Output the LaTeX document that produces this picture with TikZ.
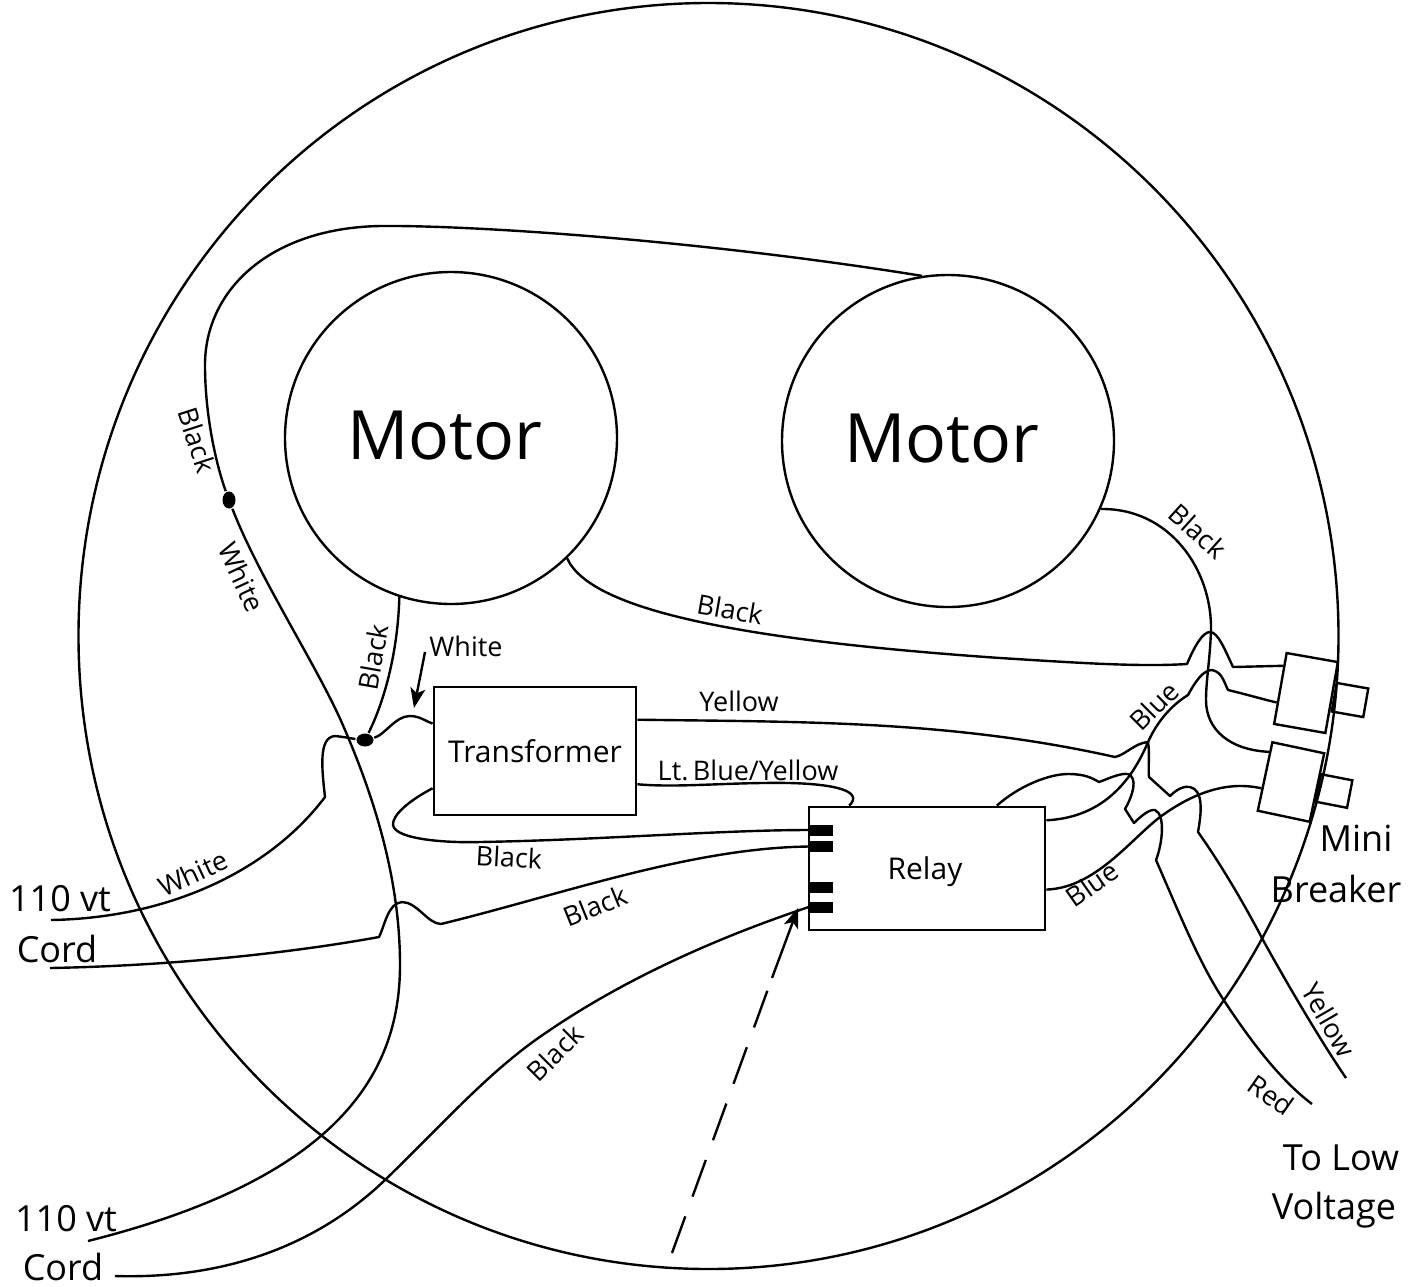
\documentclass[tikz,border=0pt]{standalone}
\usepackage{fontspec}
\setmainfont{Open Sans}
\usetikzlibrary{shapes.geometric, arrows.meta}

\begin{document}
\begin{tikzpicture}[x=1pt, y=-1pt, line width=2.4pt,
  wire/.style={line join=round},
  pointer/.style={-{Stealth[length=20pt, width=15pt, inset=5pt]}},
  motor/.style={draw, circle, minimum size=332pt, inner sep=0pt},
  motortxt/.style={font=\fontsize{68}{68}\selectfont, inner sep=0pt},
  box/.style={draw, rectangle, line width=2.8pt, inner sep=0pt},
  breaker/.style={draw, rectangle, inner sep=0pt},
  pin/.style={fill=black, rectangle, minimum width=23pt, minimum height=11pt, inner sep=0pt},
  splice/.style={fill=black, ellipse, inner sep=0pt},
  boxtxt/.style={font=\fontsize{30}{30}\selectfont, inner sep=0pt},
  lbl/.style={font=\fontsize{27}{27}\selectfont, inner sep=0pt},
  biglbl/.style={font=\fontsize{36}{36}\selectfont, inner sep=0pt}]
\useasboundingbox (0,0) rectangle (1424,1286);

\node[draw, ellipse, minimum width=1260pt, minimum height=1266pt, inner sep=0pt] (housing) at (708.5,636) {};
\node[motor] (motorL) at (451,438) {};
\node[motor] (motorR) at (948,441) {};
\node[box, minimum width=202pt, minimum height=128pt] (xfmr) at (535,751) {};
\node[box, minimum width=236pt, minimum height=123pt] (relay) at (927,868.5) {};
\node[breaker, minimum width=52pt, minimum height=72pt, rotate=-10] (brkA) at (1306,693) {};
\node[breaker, minimum width=32pt, minimum height=29pt, rotate=-10] (tabA) at (1350,700) {};
\node[breaker, minimum width=53pt, minimum height=70pt, rotate=-12] (brkB) at (1291,782) {};
\node[breaker, minimum width=32pt, minimum height=28pt, rotate=-11] (tabB) at (1334,791) {};
\node[pin] (pinA) at (821.5,830) {};
\node[pin] (pinB) at (821.5,846.5) {};
\node[pin] (pinC) at (821.5,887.5) {};
\node[pin] (pinD) at (821.5,907) {};
\node[splice, minimum width=13pt, minimum height=17pt] (spliceA) at (229,500) {};
\node[splice, minimum width=17pt, minimum height=13pt] (spliceB) at (365,740) {};

\coordinate (cordA) at (51,920);
\coordinate (cordB) at (50,968);
\coordinate (cordC) at (88,1241);
\coordinate (cordD) at (115,1276);
\coordinate (endYellow) at (1346,1078);
\coordinate (endRed) at (1312,1104);
\coordinate (noteTail) at (425,652);
\coordinate (noteHead) at (414,708);
\coordinate (dashTail) at (672,1253);
\coordinate (dashKnee) at (772,978);
\coordinate (dashHead) at (798,908);

\draw[wire] (motorR.99) .. controls (700,240) and (470,225) .. (380,226)
  .. controls (270,228) and (205,290) .. (205,365)
  .. controls (205,420) and (218,470) .. (spliceA);
\draw[wire] (spliceA) .. controls (260,580) and (320,670) .. (345,730)
  .. controls (375,800) and (400,880) .. (400,965)
  .. controls (400,1080) and (330,1180) .. (cordC);
\draw[wire] (cordD) .. controls (250,1280) and (335,1228) .. (385,1180)
  .. controls (445,1122) and (490,1070) .. (547,1032)
  .. controls (620,982) and (710,940) .. (pinD.west);
\draw[wire] (cordB) .. controls (160,966) and (280,955) .. (379,937)
  .. controls (385,925) and (388,903) .. (402,902)
  .. controls (417,902) and (428,924) .. (441,924)
  .. controls (560,895) and (690,848) .. (pinB.west);
\draw[wire] (cordA) .. controls (170,918) and (270,870) .. (325,797)
  .. controls (322,770) and (318,737) .. (335,736)
  .. controls (345,737) and (355,739) .. (spliceB);
\draw[wire] (motorL.-108) .. controls (398,650) and (385,700) .. (spliceB);
\draw[wire] (spliceB) .. controls (385,735) and (395,716) .. (410,716)
  .. controls (420,716) and (427,722) .. (xfmr.165);
\draw[wire] (xfmr.200) .. controls (410,800) and (392,815) .. (393,825)
  .. controls (395,840) and (450,843) .. (480,842)
  .. controls (600,840) and (720,830) .. (pinA.west);
\draw[wire] (xfmr.17) .. controls (800,722) and (950,720) .. (1115,757)
  .. controls (1125,755) and (1135,743) .. (1148,742)
  .. controls (1150,755) and (1148,765) .. (1149,777) -- (1170,796)
  .. controls (1178,788) and (1185,786) .. (1190,787)
  .. controls (1203,790) and (1202,810) .. (1198,832)
  .. controls (1225,870) and (1250,915) .. (1263,940)
  .. controls (1285,980) and (1320,1040) .. (endYellow);
\draw[wire] (xfmr.-18) .. controls (680,788) and (730,782) .. (790,783)
  .. controls (830,784) and (865,790) .. (relay.141);
\draw[wire] (relay.42) .. controls (1020,785) and (1050,774) .. (1068,774)
  .. controls (1085,774) and (1092,778) .. (1099,782)
  .. controls (1110,778) and (1120,773) .. (1128,774)
  .. controls (1138,778) and (1133,795) .. (1125,809) -- (1134,823)
  .. controls (1142,815) and (1150,809) .. (1155,810)
  .. controls (1166,815) and (1162,845) .. (1156,860)
  .. controls (1180,915) and (1200,965) .. (1225,1002)
  .. controls (1250,1040) and (1280,1080) .. (endRed);
\draw[wire] (relay.22) .. controls (1095,818) and (1128,790) .. (1148,742)
  .. controls (1158,720) and (1172,705) .. (1188,695)
  .. controls (1195,682) and (1203,670) .. (1212,670)
  .. controls (1222,672) and (1224,682) .. (1228,690)
  .. controls (1245,694) and (1262,699) .. (brkA.208);
\draw[wire] (motorR.-24) .. controls (1170,508) and (1212,570) .. (1211,630)
  .. controls (1210,660) and (1206,680) .. (1206,700)
  .. controls (1206,730) and (1230,750) .. (brkB.138);
\draw[wire] (motorL.-46) .. controls (590,610) and (740,640) .. (1000,658)
  .. controls (1080,663) and (1140,667) .. (1187,664)
  .. controls (1195,645) and (1203,632) .. (1210,632)
  .. controls (1218,632) and (1225,650) .. (1233,667) -- (brkA.140);
\draw[wire] (relay.-10) .. controls (1095,888) and (1130,840) .. (1160,817)
  .. controls (1190,795) and (1225,780) .. (brkB.204);
\draw[pointer] (noteTail) -- (noteHead);
\draw[dash pattern=on 39pt off 21pt] (dashTail) -- (dashKnee);
\draw[pointer] (dashKnee) -- (dashHead);

\node[motortxt] (txtL) at (445,436) {Motor};
\node[motortxt] (txtR) at (942,439) {Motor};
\node[boxtxt] (txtX) at (535,751) {Transformer};
\node[boxtxt] (txtY) at (925,872) {Relay};
\node[lbl, rotate=-72] (lblA) at (197,440) {Black};
\node[lbl, rotate=-65] (lblB) at (242,577) {White};
\node[lbl, rotate=80] (lblC) at (373,657) {Black};
\node[lbl] (lblD) at (466,646) {White};
\node[lbl, rotate=-10] (lblE) at (730,609) {Black};
\node[lbl, rotate=-42] (lblF) at (1198,531) {Black};
\node[lbl] (lblG) at (739,701) {Yellow};
\node[lbl] (lblH) at (748,770) {Lt.\,Blue/Yellow};
\node[lbl, rotate=-3] (lblI) at (509,857) {Black};
\node[lbl, rotate=22] (lblJ) at (595,906) {Black};
\node[lbl, rotate=25] (lblK) at (193,873) {White};
\node[lbl, rotate=45] (lblL) at (555,1053) {Black};
\node[lbl, rotate=35] (lblM) at (1092,884) {Blue};
\node[lbl, rotate=45] (lblN) at (1154,706) {Blue};
\node[lbl, rotate=-60] (lblO) at (1329,1020) {Yellow};
\node[lbl, rotate=-35] (lblP) at (1271,1095) {Red};
\node[biglbl] (mini) at (1356,838) {Mini};
\node[biglbl] (breaker) at (1336,889) {Breaker};
\node[biglbl] (toLow) at (1341,1158) {To Low};
\node[biglbl] (voltage) at (1334,1210) {Voltage};
\node[biglbl] (voltA) at (60,899) {110 vt};
\node[biglbl] (cordTxtA) at (57,949) {Cord};
\node[biglbl] (voltB) at (66,1219) {110 vt};
\node[biglbl] (cordTxtB) at (63,1267) {Cord};
\end{tikzpicture}
\end{document}
